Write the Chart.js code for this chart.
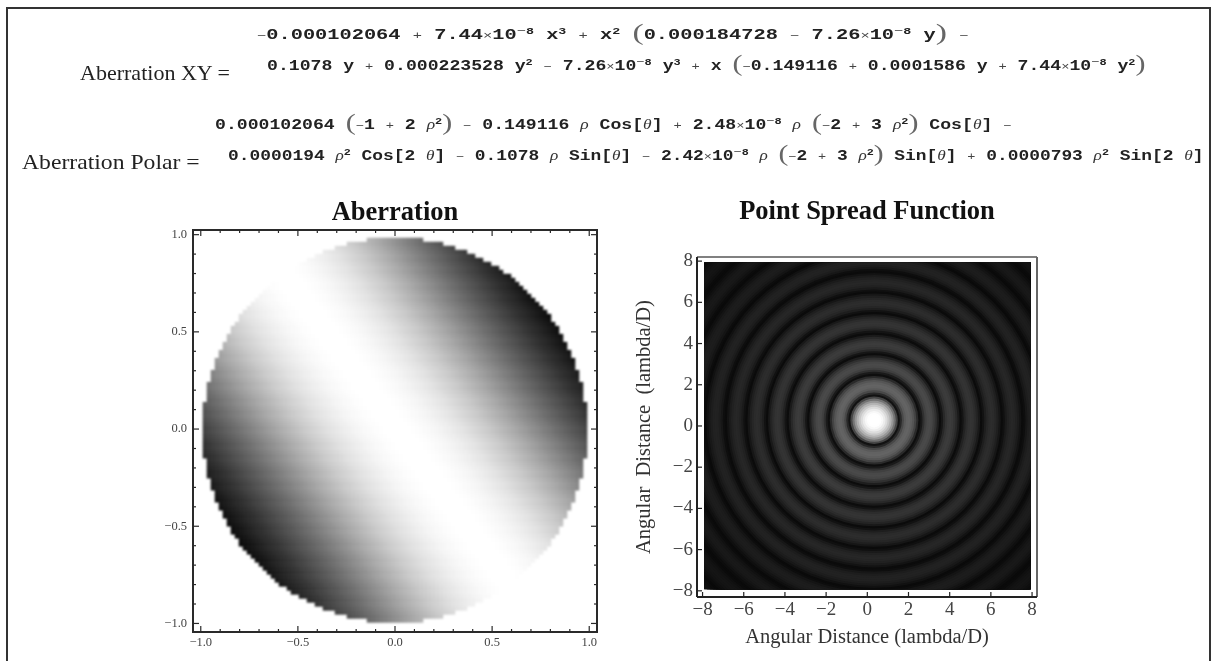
<!DOCTYPE html>
<html><head><meta charset="utf-8">
<script src="https://cdn.jsdelivr.net/npm/chart.js@4"></script>
<style>
html,body{margin:0;padding:0;background:#fff;width:1217px;height:661px;overflow:hidden}
#page{position:absolute;left:0;top:0;width:1217px;height:661px;filter:blur(0.65px)}
#border{position:absolute;left:6px;top:7px;width:1205px;height:660px;border:2px solid #333;box-sizing:border-box}
canvas{position:absolute}
.e{position:absolute;font:bold 14.5px/20px 'Liberation Mono',monospace;white-space:pre;color:#222;transform-origin:0 50%}
.e sup{font-size:9.5px;vertical-align:5px;line-height:0}
.e .o{font-weight:normal;font-size:11px;color:#444}
.e .p{font:normal 24px/20px 'Liberation Serif',serif;color:#666;vertical-align:-1px}
.e .g{font:italic normal 14px/20px 'Liberation Serif',serif;color:#333}
.l{position:absolute;font:21px/24px 'Liberation Serif',serif;white-space:pre;color:#222;transform-origin:0 50%}
</style></head><body>
<div id="page">
<div id="border"></div>
<div id="eqs"></div>
<div class="l" id="lx" style="left:80px;top:61px">Aberration XY =</div>
<div class="l" id="lp" style="left:22px;top:150px">Aberration Polar =</div>
<canvas id="ab" width="480" height="471" style="left:140px;top:190px"></canvas>
<canvas id="psf" width="440" height="471" style="left:620px;top:190px"></canvas>
</div>
<script>
// ---------- text ----------
const equationRows = [
 "−0.000102064 + 7.44×10^{−8} x^{3} + x^{2} (0.000184728 − 7.26×10^{−8} y) −",
 "0.1078 y + 0.000223528 y^{2} − 7.26×10^{−8} y^{3} + x (−0.149116 + 0.0001586 y + 7.44×10^{−8} y^{2})",
 "0.000102064 (−1 + 2 ρ^{2}) − 0.149116 ρ Cos[θ] + 2.48×10^{−8} ρ (−2 + 3 ρ^{2}) Cos[θ] −",
 "0.0000194 ρ^{2} Cos[2 θ] − 0.1078 ρ Sin[θ] − 2.42×10^{−8} ρ (−2 + 3 ρ^{2}) Sin[θ] + 0.0000793 ρ^{2} Sin[2 θ]"
];
const abTitle = "Aberration";
const psfTitle = "Point Spread Function";
const psfXTitle = "Angular Distance (lambda/D)";
const psfYTitle = "Angular\u00A0\u00A0Distance\u00A0\u00A0(lambda/D)";

// ---------- aberration axes ----------
const abTicks = [-1, -0.5, 0, 0.5, 1];
const abTickLabels = ["−1.0", "−0.5", "0.0", "0.5", "1.0"];
const abMinorTicks = [-0.9,-0.8,-0.7,-0.6,-0.4,-0.3,-0.2,-0.1,0.1,0.2,0.3,0.4,0.6,0.7,0.8,0.9];

// gray level read across the disk, perpendicular to the pale band (lower-left to upper-right)
const abProfile = [
 10,14,18,22,27,32,37,42,46,51,56,62,67,72,78,83,88,94,99,105,110,116,122,127,133,139,144,150,156,161,
 167,172,177,182,187,192,197,202,206,210,214,218,222,226,229,232,235,238,240,243,245,247,249,250,252,253,254,255,255,255,
 255,
 255,255,255,254,253,252,250,249,247,245,243,240,238,235,232,229,226,222,218,214,210,206,202,197,192,187,182,177,172,167,
 161,156,150,144,139,133,127,122,116,110,105,99,94,88,83,78,72,67,62,56,51,46,42,37,32,27,22,18,14,10
];
// half-width of every cell row of the disk, top to bottom
const abRowHalfWidth = [
 7,12,15,18,20,22,24,26,27,29,30,31,32,33,34,35,36,37,38,39,39,40,41,41,42,42,43,43,44,44,45,45,45,46,46,46,47,47,47,47,47,48,48,48,48,48,48,48,
 48,48,48,48,48,48,48,47,47,47,47,47,46,46,46,45,45,45,44,44,43,43,42,42,41,41,40,39,39,38,37,36,35,34,33,32,31,30,29,27,26,24,22,20,18,15,12,7
];
// how far the band has moved sideways on every cell row, top to bottom
const abRowShift = [
 34,34,33,32,31,31,30,29,29,28,27,26,26,25,24,24,23,22,21,21,20,19,18,18,17,16,16,15,14,13,13,12,11,10,10,9,8,8,7,6,5,5,4,3,3,2,1,0,
 0,-1,-2,-3,-3,-4,-5,-5,-6,-7,-8,-8,-9,-10,-10,-11,-12,-13,-13,-14,-15,-16,-16,-17,-18,-18,-19,-20,-21,-21,-22,-23,-24,-24,-25,-26,-26,-27,-28,-29,-29,-30,-31,-31,-32,-33,-34,-34
];

// ---------- psf axes and radial profile ----------
const psfTicks = [-8,-6,-4,-2,0,2,4,6,8];
const psfTickLabels = ["−8","−6","−4","−2","0","2","4","6","8"];
const psfCenter = [0.33, 0.28];
const psfImageRange = [-7.93, 7.93];
const psfRadius = [
 0,0.1,0.2,0.3,0.4,0.5,0.6,0.7,0.8,0.9,1,1.1,1.2,1.3,1.4,1.5,1.6,1.7,1.8,1.9,2,2.1,2.2,2.3,2.4,2.5,2.6,2.7,2.8,2.9,
 3,3.1,3.2,3.3,3.4,3.5,3.6,3.7,3.8,3.9,4,4.1,4.2,4.3,4.4,4.5,4.6,4.7,4.8,4.9,5,5.1,5.2,5.3,5.4,5.5,5.6,5.7,5.8,5.9,
 6,6.1,6.2,6.3,6.4,6.5,6.6,6.7,6.8,6.9,7,7.1,7.2,7.3,7.4,7.5,7.6,7.7,7.8,7.9,8,8.1,8.2,8.3,8.4,8.5,8.6,8.7,8.8,8.9,
 9,9.1,9.2,9.3,9.4,9.5,9.6,9.7,9.8,9.9,10,10.1,10.2,10.3,10.4,10.5,10.6,10.7,10.8,10.9,11,11.1,11.2,11.3,11.4,11.5,11.6
];
const psfGray = [
 255,255,255,254,248,236,220,200,178,150,115,70,18,40,72,90,98,100,95,85,68,42,14,26,48,64,72,74,70,60,
 48,30,12,22,40,52,58,60,57,50,40,26,12,20,34,44,50,52,50,44,36,25,11,18,30,38,43,45,43,38,
 31,22,11,16,26,33,37,39,37,33,27,19,11,14,23,29,33,34,33,29,24,17,10,13,20,25,28,29,28,25,
 20,15,10,12,17,21,24,25,24,21,17,13,10,11,15,18,20,21,20,18,15,12,9,11,13,15,16
];

// ---------- equations ----------
function fmt(s){
  return s.replace(/\^\{(.*?)\}/g,'\u0001$1\u0002')
    .replace(/[+−×]/g,m=>'<span class="o">'+m+'</span>')
    .replace(/[()]/g,m=>'<span class="p">'+m+'</span>')
    .replace(/[ρθ]/g,m=>'<span class="g">'+m+'</span>')
    .replace(/\u0001/g,'<sup>').replace(/\u0002/g,'</sup>');
}
const eqSpans = [[257,968,22],[267,1145,53],[215,1012,112],[228,1203,143]];
equationRows.forEach((t,i)=>{
  const d=document.createElement('div');d.className='e';
  d.style.left=eqSpans[i][0]+'px';d.style.top=eqSpans[i][2]+'px';d.innerHTML=fmt(t);
  document.getElementById('eqs').appendChild(d);
  d.style.transform='scaleX('+((eqSpans[i][1]-eqSpans[i][0])/d.offsetWidth)+')';
});
[['lx',150],['lp',178]].forEach(([id,w])=>{const d=document.getElementById(id);d.style.transform='scaleX('+(w/d.offsetWidth)+')';});

// ---------- marks ----------
const abCell = 0.0206;
const abPoints=[], abColors=[];
abRowHalfWidth.forEach((half,r)=>{
  for(let c=48-half;c<48+half;c++){
    const i=Math.max(0,Math.min(120,c-48+abRowShift[r]+60));
    const g=abProfile[i];
    abPoints.push({x:(c-47.5)*abCell,y:(47.5-r)*abCell-0.006});
    abColors.push('rgb('+g+','+g+','+g+')');
  }
});
const psfPoints=[], psfColors=[];
for(let i=psfRadius.length-1;i>=0;i--){
  psfPoints.push({x:psfCenter[0],y:psfCenter[1],r:psfRadius[i]+0.05});
  const g=psfGray[i];psfColors.push('rgb('+g+','+g+','+g+')');
}

// ---------- frames and inward ticks, through the scales ----------
function tickLine(ctx,x1,y1,x2,y2){ctx.beginPath();ctx.moveTo(x1,y1);ctx.lineTo(x2,y2);ctx.stroke();}
const abFrame={id:'abFrame',
 beforeDatasetDraw(ch){
  const {ctx,chartArea:a}=ch;ctx.save();ctx.fillStyle='#fff';ctx.fillRect(a.left,a.top,a.width,a.height);ctx.restore();
 },
 afterDatasetDraw(ch){
  const {ctx,chartArea:a}=ch;ctx.save();
  ctx.beginPath();ctx.rect(a.left,a.top,a.width,a.height);ctx.clip();
  ctx.filter='blur(1.3px)';ctx.drawImage(ctx.canvas,0,0);ctx.restore();
 },
 afterDraw(ch){
  const {ctx,chartArea:a,scales:{x,y}}=ch;ctx.save();
  ctx.strokeStyle='#2a2a2a';ctx.lineWidth=2;ctx.strokeRect(a.left,a.top,a.width,a.height);
  const draw=(vals,len)=>vals.forEach(v=>{
    const px=x.getPixelForValue(v),py=y.getPixelForValue(v);
    tickLine(ctx,px,a.bottom,px,a.bottom-len);tickLine(ctx,px,a.top,px,a.top+len);
    tickLine(ctx,a.left,py,a.left+len,py);tickLine(ctx,a.right,py,a.right-len,py);
  });
  ctx.lineWidth=1.2;draw(abTicks,6);draw(abMinorTicks,3);
  ctx.restore();
 }};
const psfFrame={id:'psfFrame',
 beforeDatasetDraw(ch){
  const {ctx,scales:{x,y}}=ch;ctx.save();
  const l=x.getPixelForValue(psfImageRange[0]),r=x.getPixelForValue(psfImageRange[1]);
  const t=y.getPixelForValue(psfImageRange[1]),b=y.getPixelForValue(psfImageRange[0]);
  ctx.beginPath();ctx.rect(l,t,r-l,b-t);ctx.clip();
 },
 afterDatasetDraw(ch){ch.ctx.restore();},
 afterDraw(ch){
  const {ctx,chartArea:a,scales:{x,y}}=ch;ctx.save();
  ctx.lineWidth=2;ctx.strokeStyle='#808080';tickLine(ctx,a.left,a.top,a.right,a.top);
  ctx.strokeStyle='#666';tickLine(ctx,a.right,a.top,a.right,a.bottom);
  ctx.strokeStyle='#222';tickLine(ctx,a.left,a.top,a.left,a.bottom);tickLine(ctx,a.left,a.bottom,a.right,a.bottom);
  ctx.lineWidth=1.2;
  psfTicks.forEach(v=>{
    const px=x.getPixelForValue(v),py=y.getPixelForValue(v);
    tickLine(ctx,px,a.bottom,px,a.bottom-5);tickLine(ctx,a.left,py,a.left+5,py);
  });
  ctx.restore();
 }};

function axis(min,max,ticks,labels,size,pad,fit,extra){
  return Object.assign({type:'linear',min,max,
    afterBuildTicks(s){s.ticks=ticks.map(v=>({value:v}));},
    afterFit(s){ if(s.isHorizontal()) s.height=fit; else s.width=fit; },
    grid:{display:false,drawTicks:false},border:{display:false},
    ticks:{autoSkip:false,maxRotation:0,padding:pad,color:'#444',
      font:{family:"'Liberation Serif',serif",size},
      callback:v=>labels[ticks.indexOf(v)]}
  },extra||{});
}
function title(text,top,bottom){
  return {display:true,text,fullSize:false,color:'#111',padding:{top,bottom},
    font:{family:"'Liberation Serif',serif",size:26.5,weight:'bold'}};
}
const base={responsive:false,animation:false,events:[],devicePixelRatio:1};

new Chart(document.getElementById('ab'),{type:'scatter',
 data:{datasets:[{data:abPoints,parsing:false,normalized:true,showLine:false,pointStyle:'rect',
   pointBackgroundColor:abColors,pointBorderWidth:0,
   pointRadius:c=>{const s=c.chart.scales.x;return (s.getPixelForValue(abCell)-s.getPixelForValue(0)+0.5)/Math.SQRT2;}}]},
 options:Object.assign({},base,{
   layout:{padding:{left:0,top:0,right:23,bottom:0}},
   plugins:{legend:{display:false},tooltip:{enabled:false},title:title(abTitle,7.1,1.1)},
   scales:{x:axis(-1.04,1.04,abTicks,abTickLabels,12.5,3,29),y:axis(-1.044,1.024,abTicks,abTickLabels,12.5,6,53)}
 }),plugins:[abFrame]});

new Chart(document.getElementById('psf'),{type:'scatter',
 data:{datasets:[{data:psfPoints,parsing:false,showLine:false,pointStyle:'circle',
   pointBackgroundColor:psfColors,pointBorderWidth:0,
   pointRadius:c=>{const s=c.chart.scales.x;return c.raw.r*(s.getPixelForValue(1)-s.getPixelForValue(0));}}]},
 options:Object.assign({},base,{
   layout:{padding:{left:0,top:0,right:23,bottom:0}},
   plugins:{legend:{display:false},tooltip:{enabled:false},title:title(psfTitle,6,29.2)},
   scales:{
    x:axis(-8.27,8.24,psfTicks,psfTickLabels,19,2,64,{title:{display:true,text:psfXTitle,color:'#333',
       font:{family:"'Liberation Serif',serif",size:20.5},padding:{top:0,bottom:10.7}}}),
    y:axis(-8.3,8.2,psfTicks,psfTickLabels,19,4,77,{title:{display:true,text:psfYTitle,color:'#333',
       font:{family:"'Liberation Serif',serif",size:20.5},padding:{top:12.7,bottom:0}}})
   }
 }),plugins:[psfFrame]});
</script>
</body></html>
